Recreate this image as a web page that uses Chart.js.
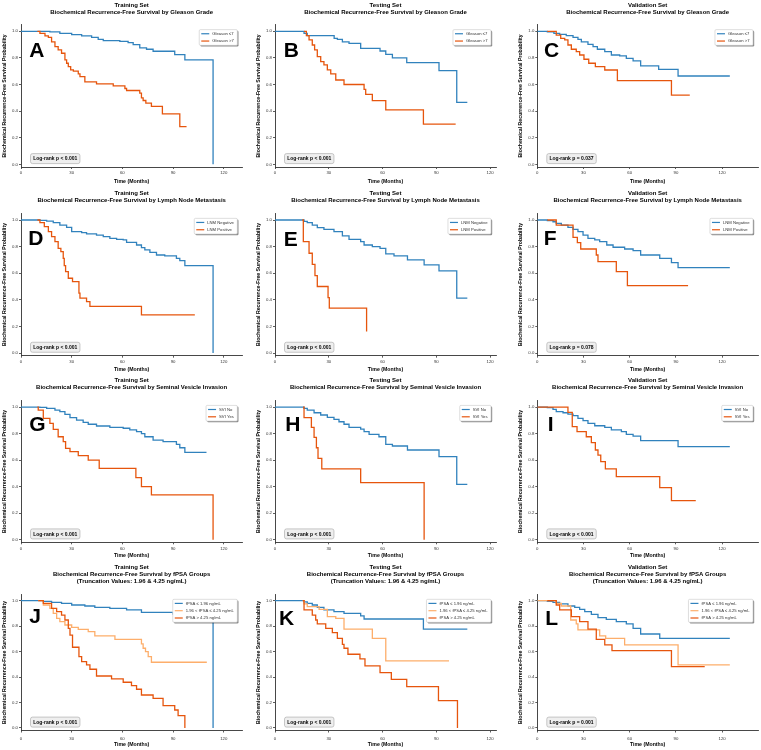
<!DOCTYPE html>
<html lang="en">
<head>
<meta charset="UTF-8">
<title>Biochemical Recurrence-Free Survival</title>
<script src="https://cdn.jsdelivr.net/npm/chart.js"></script>
<style>
    body { margin: 0; background: #fff; }
    #fig { position: relative; width: 761px; height: 750px; background: #fff; }
    #fig canvas { position: absolute; }
</style>
</head>
<body>
<div id="fig"></div>
<script>
    // ---- data: [time (months), survival probability] ----
    const A_low  = [[0,1],[17.1,0.995],[23,0.985],[30,0.975],[35.9,0.965],[41.8,0.955],[45.7,0.94],[48.7,0.93],[58.5,0.925],[63.4,0.915],[66.4,0.9],[70.3,0.875],[74.3,0.865],[78.2,0.85],[91,0.825],[97,0.785],[113.7,0]];
    const A_high = [[9.7,1],[11.2,0.985],[14.2,0.965],[16.2,0.955],[18.1,0.92],[20.1,0.885],[22,0.86],[24,0.835],[26,0.785],[27,0.76],[28,0.735],[29.4,0.71],[31,0.7],[33.9,0.68],[34.9,0.66],[37.8,0.62],[44.7,0.605],[54.6,0.59],[61.5,0.57],[62.5,0.555],[70.3,0.535],[71.3,0.5],[72.3,0.48],[73.9,0.46],[77.2,0.435],[83.7,0.38],[94,0.283],[98,0.283]];
    const B_low  = [[0,1],[16.2,0.985],[18,0.967],[33,0.947],[34.8,0.94],[37.6,0.92],[41.3,0.91],[47.8,0.872],[58.6,0.852],[61.8,0.827],[65.5,0.8],[73.5,0.764],[91.5,0.704],[101.4,0.466],[107.3,0.466]];
    const B_high = [[16.2,1],[17.5,0.967],[19,0.935],[20.8,0.897],[22.1,0.86],[23.6,0.81],[25.5,0.772],[27.3,0.747],[29.2,0.71],[31.1,0.68],[33.9,0.634],[38.5,0.6],[49.7,0.564],[50.6,0.526],[54.3,0.479],[61.8,0.409],[82.8,0.303],[100.8,0.303]];
    const C_low  = [[0,1],[6.5,0.995],[10.8,0.985],[14.5,0.977],[18.8,0.967],[23.2,0.955],[26.4,0.94],[28.6,0.92],[32.9,0.902],[36.2,0.885],[39,0.865],[43.8,0.847],[48.1,0.822],[53.5,0.815],[57.8,0.797],[62.2,0.777],[67.1,0.74],[78.8,0.714],[91.4,0.664],[125,0.664]];
    const C_high = [[6.5,1],[12.3,0.972],[15.2,0.947],[17.8,0.935],[19.9,0.897],[22.1,0.865],[25.3,0.847],[27.5,0.822],[30.3,0.79],[33.4,0.76],[37.7,0.734],[43.8,0.709],[52,0.629],[87.1,0.521],[99,0.521]];

    const D_neg = [[0,1],[11.2,0.997],[15.2,0.992],[19.1,0.98],[23,0.962],[27,0.945],[30,0.912],[35.9,0.905],[38.8,0.895],[44.7,0.887],[48.7,0.875],[52.6,0.862],[56.6,0.855],[60.5,0.85],[62.5,0.832],[68.4,0.812],[71.3,0.792],[73.3,0.775],[76.3,0.757],[80.2,0.737],[85.1,0.73],[92,0.712],[94,0.695],[97,0.657],[113.7,0]];
    const D_pos = [[9.7,1],[11.2,0.98],[13.8,0.95],[16.2,0.912],[18.1,0.875],[20.1,0.837],[22,0.787],[23.6,0.762],[25,0.712],[25.6,0.657],[26.4,0.612],[28,0.562],[30.5,0.537],[34.3,0.45],[34.9,0.412],[38.8,0.387],[40.8,0.35],[71.3,0.287],[102.9,0.287]];
    const E_neg = [[0,1],[16.2,0.99],[18,0.98],[20.8,0.962],[23.6,0.942],[27.3,0.93],[32.9,0.912],[37.6,0.88],[41.3,0.855],[47.8,0.837],[49.7,0.812],[54.3,0.8],[58.6,0.787],[61.8,0.745],[66.4,0.73],[73.9,0.7],[83.2,0.662],[91.5,0.617],[101.4,0.412],[107.3,0.412]];
    const E_pos = [[15.2,1],[15.8,0.837],[19,0.75],[20.8,0.667],[22.3,0.582],[23.6,0.5],[29.6,0.417],[30.3,0.337],[51,0.337],[51.1,0.162]];
    const F_neg = [[0,1],[6.5,0.995],[10.2,0.987],[12.3,0.975],[15.6,0.962],[19.9,0.945],[23.2,0.93],[26.4,0.912],[29.7,0.887],[32.9,0.862],[37.3,0.85],[40.5,0.837],[45.1,0.812],[49.2,0.795],[56.7,0.782],[62.2,0.77],[67.1,0.737],[79.5,0.712],[87.1,0.68],[91.4,0.642],[125,0.642]];
    const F_pos = [[6.5,1],[12.3,0.962],[23.2,0.87],[26,0.83],[28.2,0.782],[38.3,0.737],[39.4,0.687],[51.3,0.612],[58.5,0.507],[97.9,0.507]];

    const G_no  = [[0,1],[11.2,0.997],[15.2,0.99],[20.1,0.977],[23,0.965],[26,0.945],[29,0.92],[32.9,0.902],[36.8,0.884],[39.8,0.87],[44.7,0.857],[52.6,0.847],[60.5,0.84],[64.4,0.827],[68.4,0.814],[71.3,0.8],[73.3,0.776],[78.2,0.751],[84.1,0.739],[92,0.719],[94,0.693],[97,0.658],[109.8,0.658]];
    const G_yes = [[9.7,1],[10.2,0.977],[13.2,0.915],[17.1,0.877],[19.1,0.832],[22,0.776],[25,0.739],[26.4,0.688],[29,0.663],[33.9,0.633],[39.8,0.6],[46.3,0.538],[68,0.467],[71.3,0.4],[77.2,0.337],[113.7,0]];
    const H_no  = [[0,1],[16.2,0.99],[18,0.977],[21.8,0.957],[25.5,0.94],[29.2,0.922],[32.9,0.907],[35.7,0.889],[38.5,0.87],[41.3,0.847],[47.8,0.834],[49.7,0.814],[52.5,0.794],[58,0.776],[61.8,0.719],[65.5,0.706],[73.9,0.676],[91.5,0.626],[101.4,0.417],[107.3,0.417]];
    const H_yes = [[15.6,1],[16.2,0.92],[20.3,0.847],[21.8,0.771],[23.1,0.693],[24,0.613],[26.1,0.533],[47.8,0.43],[83.2,0]];
    const I_no  = [[0,1],[6.5,0.995],[10.2,0.982],[12.3,0.965],[16.7,0.957],[19.9,0.947],[23.2,0.935],[26.4,0.915],[29.7,0.897],[32.9,0.877],[37.3,0.859],[43.8,0.847],[48.1,0.827],[54.6,0.814],[57.8,0.794],[62.2,0.781],[67.1,0.746],[91.4,0.701],[125,0.701]];
    const I_yes = [[0,1],[19.9,0.96],[22.7,0.852],[25.8,0.814],[31.8,0.776],[35.1,0.731],[37.7,0.676],[39.4,0.638],[41.2,0.588],[44.2,0.533],[51.3,0.475],[79.5,0.392],[87.1,0.294],[102.9,0.294]];

    const J_low  = [[0,1],[13.2,0.995],[18.1,0.987],[24,0.979],[30,0.966],[37.8,0.958],[43.7,0.948],[52.6,0.94],[62.5,0.927],[71.3,0.908],[90,0.895],[113.7,0]];
    const J_mid  = [[10.2,1],[13.2,0.966],[17.1,0.94],[19.1,0.9],[21.1,0.861],[23,0.835],[26,0.809],[30,0.79],[33.9,0.775],[39.8,0.757],[43.7,0.723],[55.6,0.696],[71.3,0.66],[72.3,0.626],[73.7,0.6],[75.3,0.56],[77.2,0.516],[110,0.516]];
    const J_high = [[10.2,1],[13.2,0.979],[18.1,0.94],[21.1,0.914],[24,0.887],[26,0.848],[28,0.783],[29,0.73],[30.5,0.634],[34.3,0.56],[35.9,0.521],[38.8,0.495],[40.8,0.461],[44.7,0.408],[53.6,0.385],[60.5,0.359],[65.4,0.332],[68.4,0.304],[71.3,0.259],[78.2,0.233],[84.1,0.175],[91,0.141],[93,0.097],[97,0]];
    const K_low  = [[0,1],[16.2,0.99],[18,0.979],[20.8,0.966],[23.6,0.948],[27.3,0.927],[32.9,0.914],[38.5,0.9],[47.8,0.88],[49.7,0.856],[82.8,0.777],[107.3,0.777]];
    const K_mid  = [[15.5,1],[16.2,0.975],[18,0.953],[24.6,0.932],[29.2,0.874],[33.9,0.861],[38.5,0.777],[54.3,0.704],[61.8,0.527],[97.1,0.527]];
    const K_high = [[15.5,1],[16.2,0.927],[20.8,0.887],[22.7,0.848],[23.6,0.817],[28.3,0.783],[32,0.749],[34.8,0.704],[37.6,0.657],[38.5,0.626],[40.7,0.579],[47.4,0.542],[50.2,0.487],[58.6,0.435],[64.9,0.382],[73.5,0.325],[91.2,0.215],[101.8,0]];
    const L_low  = [[0,1],[6.5,0.995],[10.2,0.987],[14.5,0.974],[19.9,0.958],[24.3,0.948],[27.5,0.932],[30.8,0.914],[35.1,0.893],[39.4,0.866],[44.8,0.853],[51.3,0.835],[57.8,0.817],[62.2,0.783],[67.1,0.738],[79.5,0.704],[125,0.704]];
    const L_mid  = [[0,1],[12.3,0.979],[15.6,0.958],[21.7,0.848],[25.3,0.817],[26.4,0.77],[40.5,0.723],[44.4,0.704],[56.7,0.652],[91.4,0.495],[125,0.495]];
    const L_high = [[6.5,1],[12.3,0.966],[14.5,0.927],[22.1,0.874],[27.5,0.835],[32.9,0.777],[38.3,0.696],[43.8,0.652],[48.5,0.607],[87.1,0.482],[108.7,0.482]];

    const gleasonNames = ['Gleason \u22647', 'Gleason >7'];
    const lnmNames = ['LNM Negative', 'LNM Positive'];
    const sviNames = ['SVI No', 'SVI Yes'];
    const fpsaNames = ['fPSA \u2264 1.96 ng/mL', '1.96 < fPSA \u2264 4.25 ng/mL', 'fPSA > 4.25 ng/mL'];
    const setNames = ['Training Set', 'Testing Set', 'Validation Set'];
    const byNames = ['Gleason Grade', 'Lymph Node Metastasis', 'Seminal Vesicle Invasion', 'fPSA Groups'];
    const pTexts = ['Log-rank p < 0.001', 'Log-rank p < 0.001', 'Log-rank p = 0.037',
                    'Log-rank p < 0.001', 'Log-rank p < 0.001', 'Log-rank p = 0.078',
                    'Log-rank p < 0.001', 'Log-rank p < 0.001', 'Log-rank p < 0.001',
                    'Log-rank p < 0.001', 'Log-rank p < 0.001', 'Log-rank p = 0.001'];
    const letters = ['A','B','C','D','E','F','G','H','I','J','K','L'];
    const xTicks = [0, 30, 60, 90, 120];
    const yTicks = [0, 0.2, 0.4, 0.6, 0.8, 1.0];

    // ---- layout ----
    const FONT = '"Liberation Sans", Arial, Helvetica, sans-serif';
    const BLUE = '#3182bd', ORANGE = '#e6550d', LIGHT = '#fdae6b';
    const colLeft = [0, 254, 508], colW = [254, 254, 253];
    const plotL = [21, 275, 537.3], plotR = [242.3, 496, 758];
    const xMaxCol = [131, 123.3, 143.3];
    const yTitleX = [5, 259, 520.3];
    const rowTop = [0, 186, 373, 560], rowH = [186, 187, 187, 190];
    const titleY1 = [5, 193.3, 380, 567.7];
    const plotT = [24.65, 213.35, 400.4, 594.3], plotB = [167, 355.66, 542.3, 730.5];
    const xTitleY = [182, 370, 556, 744.3];
    const xTickPad = [1, 1.5, 1.5, 3.5];
    // panel letter ink position (left, baseline), page coords
    const letterPos = [[29.3,57.3],[284.7,57.3],[544,56.5],[29.3,245],[284.7,245.5],[544.7,245],
                       [29.3,430.5],[286.3,430.7],[548.7,431],[29.3,623],[280,625],[546.3,625]];
    const TLH = 6.9, ALH = 6.24;

    const panels = [
        [A_low, A_high], [B_low, B_high], [C_low, C_high],
        [D_neg, D_pos], [E_neg, E_pos], [F_neg, F_pos],
        [G_no, G_yes], [H_no, H_yes], [I_no, I_yes],
        [J_low, J_mid, J_high], [K_low, K_mid, K_high], [L_low, L_mid, L_high]
    ];
    const namesByRow = [gleasonNames, lnmNames, sviNames, fpsaNames];

    function roundRect(ctx, x, y, w, h, r) {
        ctx.beginPath();
        ctx.moveTo(x + r, y);
        ctx.arcTo(x + w, y, x + w, y + h, r);
        ctx.arcTo(x + w, y + h, x, y + h, r);
        ctx.arcTo(x, y + h, x, y, r);
        ctx.arcTo(x, y, x + w, y, r);
        ctx.closePath();
    }

    // letter, log-rank box and legend drawn on top of the curves
    const extrasPlugin = {
        id: 'extras',
        afterDraw(chart, args, o) {
            const ctx = chart.ctx, area = chart.chartArea;
            ctx.save();
            // panel letter
            ctx.font = 'bold 21px ' + FONT;
            ctx.fillStyle = '#000';
            ctx.textBaseline = 'alphabetic';
            ctx.textAlign = 'left';
            const m = ctx.measureText(o.letter);
            ctx.fillText(o.letter, o.letterX + m.actualBoundingBoxLeft, o.letterY);

            // log-rank box
            ctx.font = 'bold 5px ' + FONT;
            const pw = ctx.measureText(o.p).width + 5.4;
            const ph = 10, px = area.left + 9.5, py = area.bottom - 3.4 - ph;
            roundRect(ctx, px, py, pw, ph, 2);
            ctx.fillStyle = '#efefef';
            ctx.fill();
            ctx.strokeStyle = '#b0b0b0';
            ctx.lineWidth = 0.7;
            ctx.stroke();
            ctx.fillStyle = '#000';
            ctx.textBaseline = 'middle';
            ctx.textAlign = 'center';
            ctx.fillText(o.p, px + pw / 2, py + ph / 2 + 0.3);

            // legend
            ctx.font = '4.2px ' + FONT;
            const tw = Math.max(...o.names.map(n => ctx.measureText(n).width));
            const lw = tw + 16.5, rowStep = 7.3;
            const lh = 8.4 + (o.names.length - 1) * rowStep;
            const lx = area.right - 5 - lw, ly = area.top + 5;
            roundRect(ctx, lx + 1.2, ly + 1.2, lw, lh, 1.2);
            ctx.fillStyle = 'rgba(0,0,0,0.45)';
            ctx.fill();
            roundRect(ctx, lx, ly, lw, lh, 1.2);
            ctx.fillStyle = '#fff';
            ctx.fill();
            ctx.strokeStyle = '#c8c8c8';
            ctx.lineWidth = 0.6;
            ctx.stroke();
            ctx.textAlign = 'left';
            o.names.forEach((n, i) => {
                const cy = ly + 4.1 + i * rowStep;
                ctx.strokeStyle = o.colors[i];
                ctx.lineWidth = 1.2;
                ctx.beginPath();
                ctx.moveTo(lx + 2, cy);
                ctx.lineTo(lx + 10, cy);
                ctx.stroke();
                ctx.fillStyle = '#333';
                ctx.fillText(n, lx + 13, cy + 0.2);
            });
            ctx.restore();
        }
    };

    const fig = document.getElementById('fig');

    panels.forEach((series, idx) => {
        const r = Math.floor(idx / 3), c = idx % 3;
        const canvas = document.createElement('canvas');
        canvas.width = colW[c];
        canvas.height = rowH[r];
        canvas.style.left = colLeft[c] + 'px';
        canvas.style.top = rowTop[r] + 'px';
        fig.appendChild(canvas);

        const names = namesByRow[r];
        const colors = series.length === 3 ? [BLUE, LIGHT, ORANGE] : [BLUE, ORANGE];
        const titleText = [setNames[c], 'Biochemical Recurrence-Free Survival by ' + byNames[r]];
        if (r === 3) titleText.push('(Truncation Values: 1.96 & 4.25 ng/mL)');

        const tPadTop = titleY1[r] - rowTop[r] - TLH / 2;
        const tPadBottom = plotT[r] - rowTop[r] - tPadTop - titleText.length * TLH;
        const yWidth = plotL[c] - colLeft[c];
        const xHeight = rowTop[r] + rowH[r] - plotB[r];

        new Chart(canvas, {
            type: 'line',
            data: {
                datasets: series.map((s, i) => ({
                    label: names[i],
                    data: s.map(p => ({ x: p[0], y: p[1] })),
                    borderColor: colors[i],
                    borderWidth: 1.3,
                    pointRadius: 0,
                    stepped: 'before',
                    fill: false,
                    order: series.length - i
                }))
            },
            options: {
                responsive: false,
                animation: false,
                devicePixelRatio: 1,
                events: [],
                layout: { padding: { left: 0, top: 0, bottom: 0, right: colW[c] - (plotR[c] - colLeft[c]) } },
                plugins: {
                    legend: { display: false },
                    tooltip: { enabled: false },
                    title: {
                        display: true,
                        fullSize: false,
                        text: titleText,
                        color: '#000',
                        font: { family: FONT, size: 6, weight: 'bold', lineHeight: TLH / 6 },
                        padding: { top: tPadTop, bottom: tPadBottom }
                    },
                    extras: {
                        letter: letters[idx],
                        letterX: letterPos[idx][0] - colLeft[c],
                        letterY: letterPos[idx][1] - rowTop[r],
                        p: pTexts[idx],
                        names: names,
                        colors: colors
                    }
                },
                scales: {
                    x: {
                        type: 'linear',
                        min: 0,
                        max: xMaxCol[c],
                        afterBuildTicks: s => { s.ticks = xTicks.map(v => ({ value: v })); },
                        ticks: { color: '#333', font: { family: FONT, size: 4.3 }, padding: xTickPad[r], maxRotation: 0, autoSkip: false },
                        grid: { drawOnChartArea: false, tickLength: 2, color: '#333', lineWidth: 0.8 },
                        border: { color: '#333', width: 0.9 },
                        title: {
                            display: true, text: 'Time (Months)', color: '#000',
                            font: { family: FONT, size: 5.2, weight: 'bold', lineHeight: 1.2 },
                            padding: { top: 0, bottom: Math.max(0, rowTop[r] + rowH[r] - xTitleY[r] - ALH / 2) }
                        },
                        afterFit: s => { s.height = xHeight; }
                    },
                    y: {
                        min: -0.02,
                        max: 1.05,
                        afterBuildTicks: s => { s.ticks = yTicks.map(v => ({ value: v })); },
                        ticks: { color: '#333', font: { family: FONT, size: 4.3 }, padding: 1, callback: v => v.toFixed(1) },
                        grid: { drawOnChartArea: false, tickLength: 2, color: '#333', lineWidth: 0.8 },
                        border: { color: '#333', width: 0.9 },
                        title: {
                            display: true, text: 'Biochemical Recurrence-Free Survival Probability', color: '#000',
                            font: { family: FONT, size: 5.2, weight: 'bold', lineHeight: 1.2 },
                            padding: { top: yTitleX[c] - colLeft[c] - ALH / 2, bottom: 0 }
                        },
                        afterFit: s => { s.width = yWidth; }
                    }
                }
            },
            plugins: [extrasPlugin]
        });
    });
</script>
</body>
</html>
